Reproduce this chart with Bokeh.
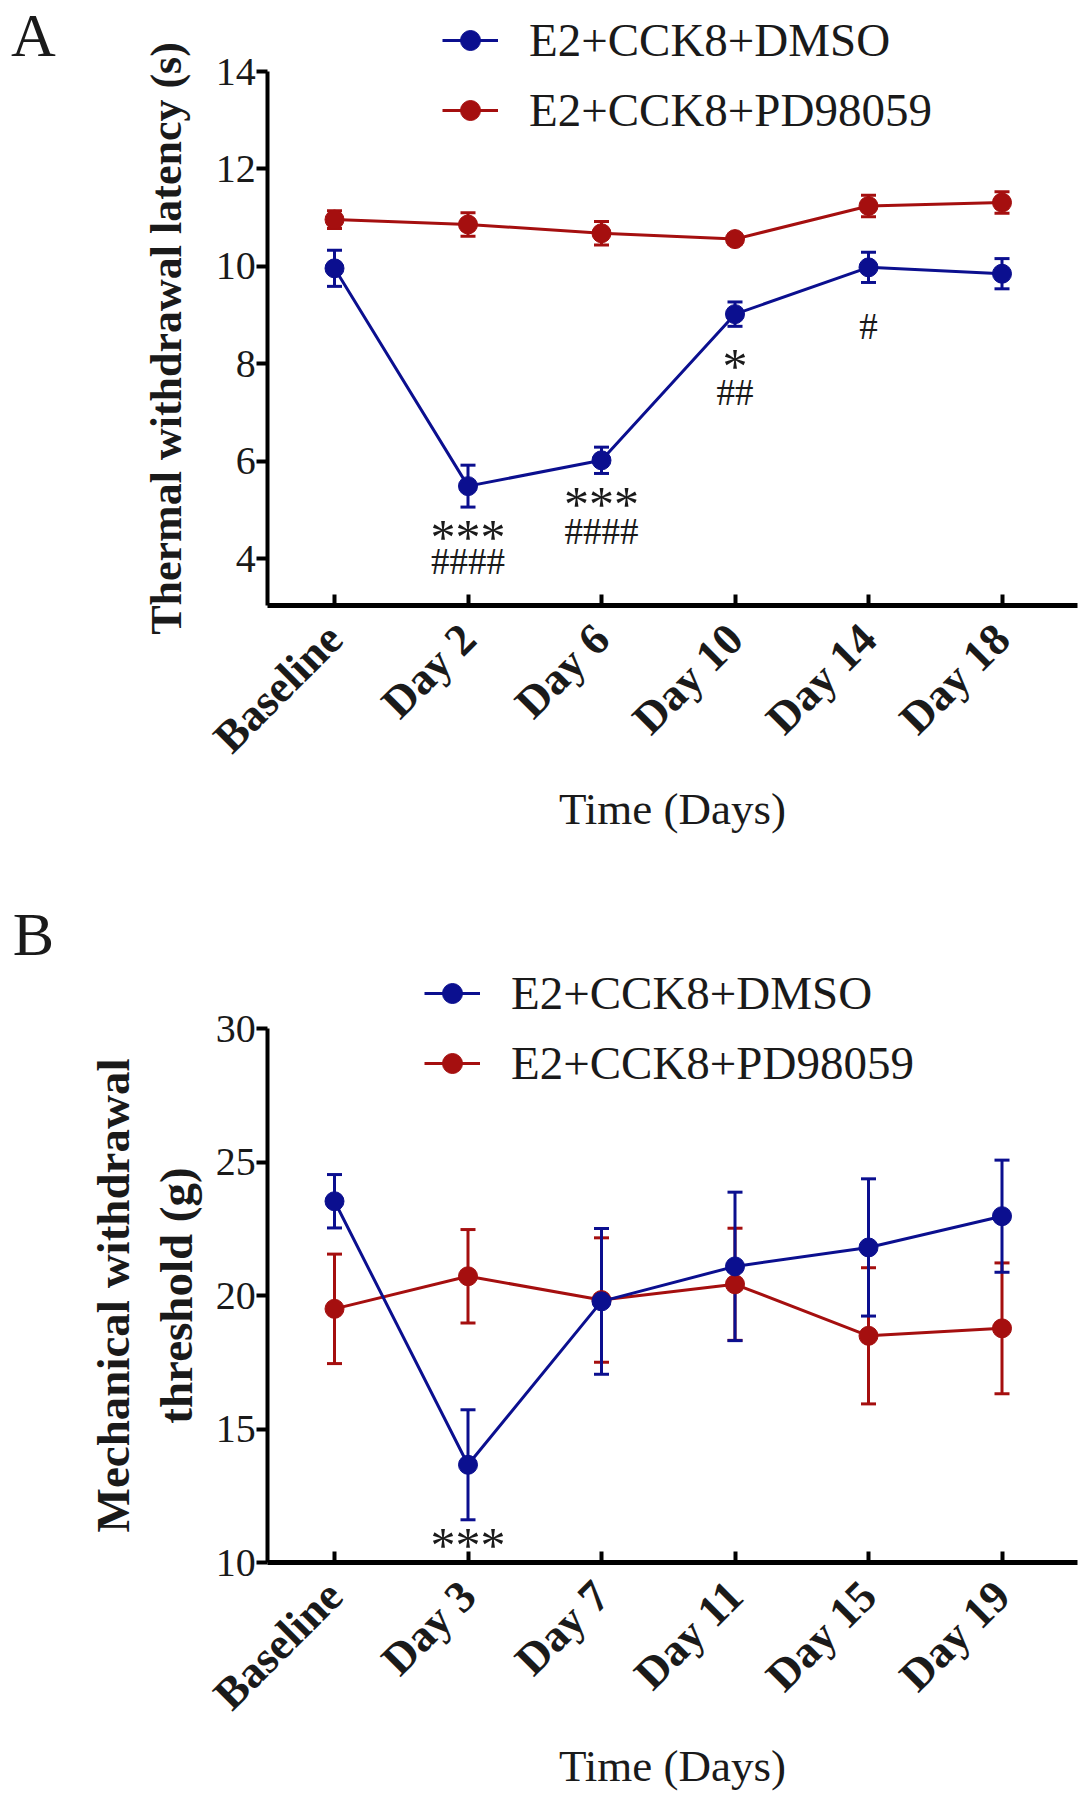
import math
from bokeh.plotting import figure
from bokeh.models import (Range1d, FixedTicker, Whisker, TeeHead, ColumnDataSource,
                          Legend, LegendItem, Label)
from bokeh.layouts import column
from bokeh.embed import file_html
from bokeh.resources import INLINE
from bokeh.core.properties import value

# ---------------- data: panel A (thermal) ----------------
days_a = ["Baseline", "Day 2", "Day 6", "Day 10", "Day 14", "Day 18"]
dmso_a = [9.96, 5.49, 6.02, 9.02, 9.98, 9.85]
dmso_a_err = [0.37, 0.43, 0.27, 0.25, 0.31, 0.31]
pd_a = [10.96, 10.86, 10.68, 10.56, 11.24, 11.31]
pd_a_err = [0.18, 0.24, 0.24, 0.10, 0.22, 0.22]
yticks_a = [4, 6, 8, 10, 12, 14]
star_a_x = [1, 2, 3]
star_a_y = [4.63, 5.30, 8.15]
star_a_text = ["***", "***", "*"]
hash_a_x = [1, 2, 3, 4]
hash_a_y = [3.95, 4.56, 7.42, 8.77]
hash_a_text = ["####", "####", "##", "#"]

# ---------------- data: panel B (mechanical) ----------------
days_b = ["Baseline", "Day 3", "Day 7", "Day 11", "Day 15", "Day 19"]
dmso_b = [23.53, 13.66, 19.78, 21.09, 21.80, 22.97]
dmso_b_err = [1.00, 2.06, 2.73, 2.78, 2.57, 2.10]
pd_b = [19.50, 20.72, 19.83, 20.42, 18.49, 18.77]
pd_b_err = [2.05, 1.75, 2.33, 2.10, 2.55, 2.45]
yticks_b = [10, 15, 20, 25, 30]
star_b_x = [1]
star_b_y = [11.0]
star_b_text = ["***"]

series_names = ["E2+CCK8+DMSO", "E2+CCK8+PD98059"]

BLUE = "#0b0f8f"
RED = "#a50f0f"
SERIF = "Liberation Serif"
TXT = "#1a1a1a"

FIG_W = 1080
X_PX = 133.5          # pixels per category step
X0_PX = 334           # pixel x of first category inside the figure
X_END = 5.566         # right end of the x axis line


def make_panel(days, dmso, dmso_err, pdv, pd_err, yticks, y_axis_at, ylabel, letter,
               stars, hashes, fig_h, top_px, bottom_px, legend_loc, letter_y,
               ylab_size, ylab_standoff):
    # frame covers the whole figure; axes are drawn at fixed data positions
    y_top_val = yticks[-1]
    px_per_y = (bottom_px - top_px) / (y_top_val - y_axis_at)
    y_end = y_top_val + top_px / px_per_y
    y_start = y_end - fig_h / px_per_y
    x_start = -X0_PX / X_PX
    x_end = x_start + FIG_W / X_PX

    p = figure(width=FIG_W, height=fig_h, output_backend="svg", toolbar_location=None,
               x_range=Range1d(x_start, x_end), y_range=Range1d(y_start, y_end),
               min_border=0, min_border_left=0, min_border_right=0,
               min_border_top=0, min_border_bottom=0)
    p.outline_line_color = None
    p.grid.grid_line_color = None
    p.background_fill_color = "white"
    p.border_fill_color = "white"

    xs = list(range(len(days)))
    rend = []
    for vals, errs, col in ((pdv, pd_err, RED), (dmso, dmso_err, BLUE)):
        src = ColumnDataSource(dict(x=xs, y=vals,
                                    lo=[v - e for v, e in zip(vals, errs)],
                                    hi=[v + e for v, e in zip(vals, errs)]))
        w = Whisker(source=src, base="x", upper="hi", lower="lo", line_color=col, line_width=3,
                    upper_head=TeeHead(size=15, line_color=col, line_width=3),
                    lower_head=TeeHead(size=15, line_color=col, line_width=3))
        p.add_layout(w)
        lr = p.line("x", "y", source=src, line_color=col, line_width=3)
        sr = p.scatter("x", "y", source=src, size=19, fill_color=col, line_color=col)
        rend.append((lr, sr))
    rend = rend[::-1]

    # x axis
    p.xaxis.fixed_location = y_axis_at
    p.xaxis.bounds = (-0.5, X_END)
    p.xaxis.ticker = FixedTicker(ticks=xs)
    p.xaxis.major_label_overrides = {i: d for i, d in enumerate(days)}
    p.xaxis.major_label_orientation = math.pi / 4
    p.xaxis.major_label_text_font = SERIF
    p.xaxis.major_label_text_font_style = "bold"
    p.xaxis.major_label_text_font_size = "45px"
    p.xaxis.major_label_text_color = TXT
    p.xaxis.major_label_standoff = 26
    p.xaxis.axis_line_width = 5
    p.xaxis.major_tick_in = 11
    p.xaxis.major_tick_out = 0
    p.xaxis.major_tick_line_width = 4
    p.xaxis.minor_tick_line_color = None
    p.xaxis.axis_label = "Time (Days)"
    p.xaxis.axis_label_text_font = SERIF
    p.xaxis.axis_label_text_font_style = "normal"
    p.xaxis.axis_label_text_font_size = "45px"
    p.xaxis.axis_label_text_color = TXT
    p.xaxis.axis_label_standoff = 1

    # y axis
    p.yaxis.fixed_location = -0.5
    p.yaxis.bounds = (y_axis_at, y_top_val)
    p.yaxis.ticker = FixedTicker(ticks=yticks)
    p.yaxis.major_label_text_font = SERIF
    p.yaxis.major_label_text_font_size = "40px"
    p.yaxis.major_label_text_color = TXT
    p.yaxis.major_label_standoff = 1
    p.yaxis.axis_line_width = 4
    p.yaxis.major_tick_in = 0
    p.yaxis.major_tick_out = 11
    p.yaxis.major_tick_line_width = 4
    p.yaxis.minor_tick_line_color = None
    p.yaxis.axis_label = ylabel
    p.yaxis.axis_label_text_font = SERIF
    p.yaxis.axis_label_text_font_style = "bold"
    p.yaxis.axis_label_text_font_size = ylab_size
    p.yaxis.axis_label_text_color = TXT
    p.yaxis.axis_label_standoff = ylab_standoff

    # significance marks
    sx, sy, st = stars
    p.text(x=sx, y=sy, text=st, text_font=value(SERIF), text_font_size="50px",
           text_align="center", text_baseline="alphabetic", y_offset=9, text_color=TXT)
    if hashes is not None:
        hx, hy, ht = hashes
        p.text(x=hx, y=hy, text=ht, text_font=value(SERIF), text_font_size="37px",
               text_align="center", text_baseline="alphabetic", y_offset=0, text_color=TXT)

    legend = Legend(items=[LegendItem(label=series_names[0], renderers=list(rend[0])),
                           LegendItem(label=series_names[1], renderers=list(rend[1]))],
                    location=legend_loc, orientation="vertical",
                    border_line_color=None, background_fill_alpha=0,
                    padding=0, margin=0, spacing=16, glyph_width=56, glyph_height=50,
                    label_height=50, label_standoff=31,
                    label_text_font=SERIF, label_text_font_size="47px", label_text_color=TXT)
    p.add_layout(legend)

    p.add_layout(Label(x=33, y=letter_y, x_units="screen", y_units="screen", text=letter,
                       text_font=SERIF, text_font_size="62px", text_align="center",
                       text_baseline="alphabetic", text_color=TXT))
    return p


pa = make_panel(days_a, dmso_a, dmso_a_err, pd_a, pd_a_err, yticks_a, 3.04,
                "Thermal withdrawal latency (s)", "A",
                (star_a_x, star_a_y, star_a_text), (hash_a_x, hash_a_y, hash_a_text),
                fig_h=862, top_px=71, bottom_px=605, legend_loc=(442, 725), letter_y=828,
                ylab_size="44px", ylab_standoff=22)
pb = make_panel(days_b, dmso_b, dmso_b_err, pd_b, pd_b_err, yticks_b, 10,
                "Mechanical withdrawal\nthreshold (g)", "B",
                (star_b_x, star_b_y, star_b_text), None,
                fig_h=934, top_px=166, bottom_px=700, legend_loc=(424, 706), letter_y=863,
                ylab_size="47px", ylab_standoff=11)

layout = column(pa, pb, spacing=0)
open("out.html", "w").write(file_html(layout, INLINE))
